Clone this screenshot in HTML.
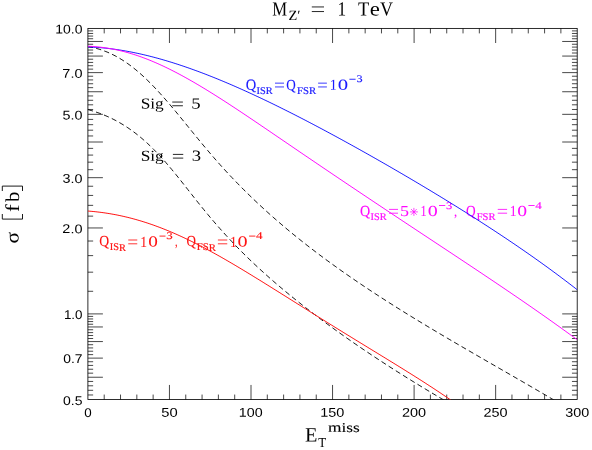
<!DOCTYPE html>
<html><head><meta charset="utf-8"><title>plot</title>
<style>
html,body{margin:0;padding:0;background:#fff;}
body{width:592px;height:450px;overflow:hidden;font-family:"Liberation Sans",sans-serif;}
svg{display:block;will-change:transform;}
text{font-kerning:none;text-rendering:geometricPrecision;}
</style></head><body>
<svg width="592" height="450" viewBox="0 0 592 450">
<defs><clipPath id="cp"><rect x="87.90" y="28.40" width="489.30" height="371.15"/></clipPath></defs>
<rect x="0" y="0" width="592" height="450" fill="#fff"/>
<rect x="87.90" y="28.40" width="489.30" height="371.15" fill="none" stroke="#000" stroke-width="0.82"/>
<line x1="104.21" y1="399.55" x2="104.21" y2="394.55" stroke="#000" stroke-width="0.72" />
<line x1="104.21" y1="28.40" x2="104.21" y2="33.40" stroke="#000" stroke-width="0.72" />
<line x1="120.52" y1="399.55" x2="120.52" y2="394.55" stroke="#000" stroke-width="0.72" />
<line x1="120.52" y1="28.40" x2="120.52" y2="33.40" stroke="#000" stroke-width="0.72" />
<line x1="136.83" y1="399.55" x2="136.83" y2="394.55" stroke="#000" stroke-width="0.72" />
<line x1="136.83" y1="28.40" x2="136.83" y2="33.40" stroke="#000" stroke-width="0.72" />
<line x1="153.14" y1="399.55" x2="153.14" y2="394.55" stroke="#000" stroke-width="0.72" />
<line x1="153.14" y1="28.40" x2="153.14" y2="33.40" stroke="#000" stroke-width="0.72" />
<line x1="169.45" y1="399.55" x2="169.45" y2="384.95" stroke="#000" stroke-width="0.72" />
<line x1="169.45" y1="28.40" x2="169.45" y2="43.00" stroke="#000" stroke-width="0.72" />
<line x1="185.76" y1="399.55" x2="185.76" y2="394.55" stroke="#000" stroke-width="0.72" />
<line x1="185.76" y1="28.40" x2="185.76" y2="33.40" stroke="#000" stroke-width="0.72" />
<line x1="202.07" y1="399.55" x2="202.07" y2="394.55" stroke="#000" stroke-width="0.72" />
<line x1="202.07" y1="28.40" x2="202.07" y2="33.40" stroke="#000" stroke-width="0.72" />
<line x1="218.38" y1="399.55" x2="218.38" y2="394.55" stroke="#000" stroke-width="0.72" />
<line x1="218.38" y1="28.40" x2="218.38" y2="33.40" stroke="#000" stroke-width="0.72" />
<line x1="234.69" y1="399.55" x2="234.69" y2="394.55" stroke="#000" stroke-width="0.72" />
<line x1="234.69" y1="28.40" x2="234.69" y2="33.40" stroke="#000" stroke-width="0.72" />
<line x1="251.00" y1="399.55" x2="251.00" y2="384.95" stroke="#000" stroke-width="0.72" />
<line x1="251.00" y1="28.40" x2="251.00" y2="43.00" stroke="#000" stroke-width="0.72" />
<line x1="267.31" y1="399.55" x2="267.31" y2="394.55" stroke="#000" stroke-width="0.72" />
<line x1="267.31" y1="28.40" x2="267.31" y2="33.40" stroke="#000" stroke-width="0.72" />
<line x1="283.62" y1="399.55" x2="283.62" y2="394.55" stroke="#000" stroke-width="0.72" />
<line x1="283.62" y1="28.40" x2="283.62" y2="33.40" stroke="#000" stroke-width="0.72" />
<line x1="299.93" y1="399.55" x2="299.93" y2="394.55" stroke="#000" stroke-width="0.72" />
<line x1="299.93" y1="28.40" x2="299.93" y2="33.40" stroke="#000" stroke-width="0.72" />
<line x1="316.24" y1="399.55" x2="316.24" y2="394.55" stroke="#000" stroke-width="0.72" />
<line x1="316.24" y1="28.40" x2="316.24" y2="33.40" stroke="#000" stroke-width="0.72" />
<line x1="332.55" y1="399.55" x2="332.55" y2="384.95" stroke="#000" stroke-width="0.72" />
<line x1="332.55" y1="28.40" x2="332.55" y2="43.00" stroke="#000" stroke-width="0.72" />
<line x1="348.86" y1="399.55" x2="348.86" y2="394.55" stroke="#000" stroke-width="0.72" />
<line x1="348.86" y1="28.40" x2="348.86" y2="33.40" stroke="#000" stroke-width="0.72" />
<line x1="365.17" y1="399.55" x2="365.17" y2="394.55" stroke="#000" stroke-width="0.72" />
<line x1="365.17" y1="28.40" x2="365.17" y2="33.40" stroke="#000" stroke-width="0.72" />
<line x1="381.48" y1="399.55" x2="381.48" y2="394.55" stroke="#000" stroke-width="0.72" />
<line x1="381.48" y1="28.40" x2="381.48" y2="33.40" stroke="#000" stroke-width="0.72" />
<line x1="397.79" y1="399.55" x2="397.79" y2="394.55" stroke="#000" stroke-width="0.72" />
<line x1="397.79" y1="28.40" x2="397.79" y2="33.40" stroke="#000" stroke-width="0.72" />
<line x1="414.10" y1="399.55" x2="414.10" y2="384.95" stroke="#000" stroke-width="0.72" />
<line x1="414.10" y1="28.40" x2="414.10" y2="43.00" stroke="#000" stroke-width="0.72" />
<line x1="430.41" y1="399.55" x2="430.41" y2="394.55" stroke="#000" stroke-width="0.72" />
<line x1="430.41" y1="28.40" x2="430.41" y2="33.40" stroke="#000" stroke-width="0.72" />
<line x1="446.72" y1="399.55" x2="446.72" y2="394.55" stroke="#000" stroke-width="0.72" />
<line x1="446.72" y1="28.40" x2="446.72" y2="33.40" stroke="#000" stroke-width="0.72" />
<line x1="463.03" y1="399.55" x2="463.03" y2="394.55" stroke="#000" stroke-width="0.72" />
<line x1="463.03" y1="28.40" x2="463.03" y2="33.40" stroke="#000" stroke-width="0.72" />
<line x1="479.34" y1="399.55" x2="479.34" y2="394.55" stroke="#000" stroke-width="0.72" />
<line x1="479.34" y1="28.40" x2="479.34" y2="33.40" stroke="#000" stroke-width="0.72" />
<line x1="495.65" y1="399.55" x2="495.65" y2="384.95" stroke="#000" stroke-width="0.72" />
<line x1="495.65" y1="28.40" x2="495.65" y2="43.00" stroke="#000" stroke-width="0.72" />
<line x1="511.96" y1="399.55" x2="511.96" y2="394.55" stroke="#000" stroke-width="0.72" />
<line x1="511.96" y1="28.40" x2="511.96" y2="33.40" stroke="#000" stroke-width="0.72" />
<line x1="528.27" y1="399.55" x2="528.27" y2="394.55" stroke="#000" stroke-width="0.72" />
<line x1="528.27" y1="28.40" x2="528.27" y2="33.40" stroke="#000" stroke-width="0.72" />
<line x1="544.58" y1="399.55" x2="544.58" y2="394.55" stroke="#000" stroke-width="0.72" />
<line x1="544.58" y1="28.40" x2="544.58" y2="33.40" stroke="#000" stroke-width="0.72" />
<line x1="560.89" y1="399.55" x2="560.89" y2="394.55" stroke="#000" stroke-width="0.72" />
<line x1="560.89" y1="28.40" x2="560.89" y2="33.40" stroke="#000" stroke-width="0.72" />
<line x1="87.90" y1="394.98" x2="93.15" y2="394.98" stroke="#000" stroke-width="0.72" />
<line x1="577.20" y1="394.98" x2="571.95" y2="394.98" stroke="#000" stroke-width="0.72" />
<line x1="87.90" y1="390.30" x2="93.15" y2="390.30" stroke="#000" stroke-width="0.72" />
<line x1="577.20" y1="390.30" x2="571.95" y2="390.30" stroke="#000" stroke-width="0.72" />
<line x1="87.90" y1="385.79" x2="93.15" y2="385.79" stroke="#000" stroke-width="0.72" />
<line x1="577.20" y1="385.79" x2="571.95" y2="385.79" stroke="#000" stroke-width="0.72" />
<line x1="87.90" y1="381.44" x2="93.15" y2="381.44" stroke="#000" stroke-width="0.72" />
<line x1="577.20" y1="381.44" x2="571.95" y2="381.44" stroke="#000" stroke-width="0.72" />
<line x1="87.90" y1="377.24" x2="102.90" y2="377.24" stroke="#000" stroke-width="0.72" />
<line x1="577.20" y1="377.24" x2="562.20" y2="377.24" stroke="#000" stroke-width="0.72" />
<line x1="87.90" y1="373.17" x2="93.15" y2="373.17" stroke="#000" stroke-width="0.72" />
<line x1="577.20" y1="373.17" x2="571.95" y2="373.17" stroke="#000" stroke-width="0.72" />
<line x1="87.90" y1="369.24" x2="93.15" y2="369.24" stroke="#000" stroke-width="0.72" />
<line x1="577.20" y1="369.24" x2="571.95" y2="369.24" stroke="#000" stroke-width="0.72" />
<line x1="87.90" y1="365.42" x2="93.15" y2="365.42" stroke="#000" stroke-width="0.72" />
<line x1="577.20" y1="365.42" x2="571.95" y2="365.42" stroke="#000" stroke-width="0.72" />
<line x1="87.90" y1="361.72" x2="93.15" y2="361.72" stroke="#000" stroke-width="0.72" />
<line x1="577.20" y1="361.72" x2="571.95" y2="361.72" stroke="#000" stroke-width="0.72" />
<line x1="87.90" y1="358.12" x2="102.90" y2="358.12" stroke="#000" stroke-width="0.72" />
<line x1="577.20" y1="358.12" x2="562.20" y2="358.12" stroke="#000" stroke-width="0.72" />
<line x1="87.90" y1="354.63" x2="93.15" y2="354.63" stroke="#000" stroke-width="0.72" />
<line x1="577.20" y1="354.63" x2="571.95" y2="354.63" stroke="#000" stroke-width="0.72" />
<line x1="87.90" y1="351.23" x2="93.15" y2="351.23" stroke="#000" stroke-width="0.72" />
<line x1="577.20" y1="351.23" x2="571.95" y2="351.23" stroke="#000" stroke-width="0.72" />
<line x1="87.90" y1="347.93" x2="93.15" y2="347.93" stroke="#000" stroke-width="0.72" />
<line x1="577.20" y1="347.93" x2="571.95" y2="347.93" stroke="#000" stroke-width="0.72" />
<line x1="87.90" y1="344.71" x2="93.15" y2="344.71" stroke="#000" stroke-width="0.72" />
<line x1="577.20" y1="344.71" x2="571.95" y2="344.71" stroke="#000" stroke-width="0.72" />
<line x1="87.90" y1="341.57" x2="102.90" y2="341.57" stroke="#000" stroke-width="0.72" />
<line x1="577.20" y1="341.57" x2="562.20" y2="341.57" stroke="#000" stroke-width="0.72" />
<line x1="87.90" y1="338.51" x2="93.15" y2="338.51" stroke="#000" stroke-width="0.72" />
<line x1="577.20" y1="338.51" x2="571.95" y2="338.51" stroke="#000" stroke-width="0.72" />
<line x1="87.90" y1="335.52" x2="93.15" y2="335.52" stroke="#000" stroke-width="0.72" />
<line x1="577.20" y1="335.52" x2="571.95" y2="335.52" stroke="#000" stroke-width="0.72" />
<line x1="87.90" y1="332.60" x2="93.15" y2="332.60" stroke="#000" stroke-width="0.72" />
<line x1="577.20" y1="332.60" x2="571.95" y2="332.60" stroke="#000" stroke-width="0.72" />
<line x1="87.90" y1="329.75" x2="93.15" y2="329.75" stroke="#000" stroke-width="0.72" />
<line x1="577.20" y1="329.75" x2="571.95" y2="329.75" stroke="#000" stroke-width="0.72" />
<line x1="87.90" y1="326.96" x2="102.90" y2="326.96" stroke="#000" stroke-width="0.72" />
<line x1="577.20" y1="326.96" x2="562.20" y2="326.96" stroke="#000" stroke-width="0.72" />
<line x1="87.90" y1="324.24" x2="93.15" y2="324.24" stroke="#000" stroke-width="0.72" />
<line x1="577.20" y1="324.24" x2="571.95" y2="324.24" stroke="#000" stroke-width="0.72" />
<line x1="87.90" y1="321.57" x2="93.15" y2="321.57" stroke="#000" stroke-width="0.72" />
<line x1="577.20" y1="321.57" x2="571.95" y2="321.57" stroke="#000" stroke-width="0.72" />
<line x1="87.90" y1="318.96" x2="93.15" y2="318.96" stroke="#000" stroke-width="0.72" />
<line x1="577.20" y1="318.96" x2="571.95" y2="318.96" stroke="#000" stroke-width="0.72" />
<line x1="87.90" y1="316.40" x2="93.15" y2="316.40" stroke="#000" stroke-width="0.72" />
<line x1="577.20" y1="316.40" x2="571.95" y2="316.40" stroke="#000" stroke-width="0.72" />
<line x1="87.90" y1="313.90" x2="102.90" y2="313.90" stroke="#000" stroke-width="0.72" />
<line x1="577.20" y1="313.90" x2="562.20" y2="313.90" stroke="#000" stroke-width="0.72" />
<line x1="87.90" y1="291.29" x2="93.15" y2="291.29" stroke="#000" stroke-width="0.72" />
<line x1="577.20" y1="291.29" x2="571.95" y2="291.29" stroke="#000" stroke-width="0.72" />
<line x1="87.90" y1="272.18" x2="93.15" y2="272.18" stroke="#000" stroke-width="0.72" />
<line x1="577.20" y1="272.18" x2="571.95" y2="272.18" stroke="#000" stroke-width="0.72" />
<line x1="87.90" y1="255.62" x2="93.15" y2="255.62" stroke="#000" stroke-width="0.72" />
<line x1="577.20" y1="255.62" x2="571.95" y2="255.62" stroke="#000" stroke-width="0.72" />
<line x1="87.90" y1="241.02" x2="93.15" y2="241.02" stroke="#000" stroke-width="0.72" />
<line x1="577.20" y1="241.02" x2="571.95" y2="241.02" stroke="#000" stroke-width="0.72" />
<line x1="87.90" y1="227.96" x2="102.90" y2="227.96" stroke="#000" stroke-width="0.72" />
<line x1="577.20" y1="227.96" x2="562.20" y2="227.96" stroke="#000" stroke-width="0.72" />
<line x1="87.90" y1="216.14" x2="93.15" y2="216.14" stroke="#000" stroke-width="0.72" />
<line x1="577.20" y1="216.14" x2="571.95" y2="216.14" stroke="#000" stroke-width="0.72" />
<line x1="87.90" y1="205.35" x2="93.15" y2="205.35" stroke="#000" stroke-width="0.72" />
<line x1="577.20" y1="205.35" x2="571.95" y2="205.35" stroke="#000" stroke-width="0.72" />
<line x1="87.90" y1="195.43" x2="93.15" y2="195.43" stroke="#000" stroke-width="0.72" />
<line x1="577.20" y1="195.43" x2="571.95" y2="195.43" stroke="#000" stroke-width="0.72" />
<line x1="87.90" y1="186.24" x2="93.15" y2="186.24" stroke="#000" stroke-width="0.72" />
<line x1="577.20" y1="186.24" x2="571.95" y2="186.24" stroke="#000" stroke-width="0.72" />
<line x1="87.90" y1="177.68" x2="102.90" y2="177.68" stroke="#000" stroke-width="0.72" />
<line x1="577.20" y1="177.68" x2="562.20" y2="177.68" stroke="#000" stroke-width="0.72" />
<line x1="87.90" y1="169.68" x2="93.15" y2="169.68" stroke="#000" stroke-width="0.72" />
<line x1="577.20" y1="169.68" x2="571.95" y2="169.68" stroke="#000" stroke-width="0.72" />
<line x1="87.90" y1="162.16" x2="93.15" y2="162.16" stroke="#000" stroke-width="0.72" />
<line x1="577.20" y1="162.16" x2="571.95" y2="162.16" stroke="#000" stroke-width="0.72" />
<line x1="87.90" y1="155.08" x2="93.15" y2="155.08" stroke="#000" stroke-width="0.72" />
<line x1="577.20" y1="155.08" x2="571.95" y2="155.08" stroke="#000" stroke-width="0.72" />
<line x1="87.90" y1="148.37" x2="93.15" y2="148.37" stroke="#000" stroke-width="0.72" />
<line x1="577.20" y1="148.37" x2="571.95" y2="148.37" stroke="#000" stroke-width="0.72" />
<line x1="87.90" y1="142.01" x2="102.90" y2="142.01" stroke="#000" stroke-width="0.72" />
<line x1="577.20" y1="142.01" x2="562.20" y2="142.01" stroke="#000" stroke-width="0.72" />
<line x1="87.90" y1="135.96" x2="93.15" y2="135.96" stroke="#000" stroke-width="0.72" />
<line x1="577.20" y1="135.96" x2="571.95" y2="135.96" stroke="#000" stroke-width="0.72" />
<line x1="87.90" y1="130.19" x2="93.15" y2="130.19" stroke="#000" stroke-width="0.72" />
<line x1="577.20" y1="130.19" x2="571.95" y2="130.19" stroke="#000" stroke-width="0.72" />
<line x1="87.90" y1="124.68" x2="93.15" y2="124.68" stroke="#000" stroke-width="0.72" />
<line x1="577.20" y1="124.68" x2="571.95" y2="124.68" stroke="#000" stroke-width="0.72" />
<line x1="87.90" y1="119.41" x2="93.15" y2="119.41" stroke="#000" stroke-width="0.72" />
<line x1="577.20" y1="119.41" x2="571.95" y2="119.41" stroke="#000" stroke-width="0.72" />
<line x1="87.90" y1="114.34" x2="102.90" y2="114.34" stroke="#000" stroke-width="0.72" />
<line x1="577.20" y1="114.34" x2="562.20" y2="114.34" stroke="#000" stroke-width="0.72" />
<line x1="87.90" y1="109.48" x2="93.15" y2="109.48" stroke="#000" stroke-width="0.72" />
<line x1="577.20" y1="109.48" x2="571.95" y2="109.48" stroke="#000" stroke-width="0.72" />
<line x1="87.90" y1="104.80" x2="93.15" y2="104.80" stroke="#000" stroke-width="0.72" />
<line x1="577.20" y1="104.80" x2="571.95" y2="104.80" stroke="#000" stroke-width="0.72" />
<line x1="87.90" y1="100.29" x2="93.15" y2="100.29" stroke="#000" stroke-width="0.72" />
<line x1="577.20" y1="100.29" x2="571.95" y2="100.29" stroke="#000" stroke-width="0.72" />
<line x1="87.90" y1="95.94" x2="93.15" y2="95.94" stroke="#000" stroke-width="0.72" />
<line x1="577.20" y1="95.94" x2="571.95" y2="95.94" stroke="#000" stroke-width="0.72" />
<line x1="87.90" y1="91.74" x2="102.90" y2="91.74" stroke="#000" stroke-width="0.72" />
<line x1="577.20" y1="91.74" x2="562.20" y2="91.74" stroke="#000" stroke-width="0.72" />
<line x1="87.90" y1="87.67" x2="93.15" y2="87.67" stroke="#000" stroke-width="0.72" />
<line x1="577.20" y1="87.67" x2="571.95" y2="87.67" stroke="#000" stroke-width="0.72" />
<line x1="87.90" y1="83.74" x2="93.15" y2="83.74" stroke="#000" stroke-width="0.72" />
<line x1="577.20" y1="83.74" x2="571.95" y2="83.74" stroke="#000" stroke-width="0.72" />
<line x1="87.90" y1="79.92" x2="93.15" y2="79.92" stroke="#000" stroke-width="0.72" />
<line x1="577.20" y1="79.92" x2="571.95" y2="79.92" stroke="#000" stroke-width="0.72" />
<line x1="87.90" y1="76.22" x2="93.15" y2="76.22" stroke="#000" stroke-width="0.72" />
<line x1="577.20" y1="76.22" x2="571.95" y2="76.22" stroke="#000" stroke-width="0.72" />
<line x1="87.90" y1="72.62" x2="102.90" y2="72.62" stroke="#000" stroke-width="0.72" />
<line x1="577.20" y1="72.62" x2="562.20" y2="72.62" stroke="#000" stroke-width="0.72" />
<line x1="87.90" y1="69.13" x2="93.15" y2="69.13" stroke="#000" stroke-width="0.72" />
<line x1="577.20" y1="69.13" x2="571.95" y2="69.13" stroke="#000" stroke-width="0.72" />
<line x1="87.90" y1="65.73" x2="93.15" y2="65.73" stroke="#000" stroke-width="0.72" />
<line x1="577.20" y1="65.73" x2="571.95" y2="65.73" stroke="#000" stroke-width="0.72" />
<line x1="87.90" y1="62.43" x2="93.15" y2="62.43" stroke="#000" stroke-width="0.72" />
<line x1="577.20" y1="62.43" x2="571.95" y2="62.43" stroke="#000" stroke-width="0.72" />
<line x1="87.90" y1="59.21" x2="93.15" y2="59.21" stroke="#000" stroke-width="0.72" />
<line x1="577.20" y1="59.21" x2="571.95" y2="59.21" stroke="#000" stroke-width="0.72" />
<line x1="87.90" y1="56.07" x2="102.90" y2="56.07" stroke="#000" stroke-width="0.72" />
<line x1="577.20" y1="56.07" x2="562.20" y2="56.07" stroke="#000" stroke-width="0.72" />
<line x1="87.90" y1="53.01" x2="93.15" y2="53.01" stroke="#000" stroke-width="0.72" />
<line x1="577.20" y1="53.01" x2="571.95" y2="53.01" stroke="#000" stroke-width="0.72" />
<line x1="87.90" y1="50.02" x2="93.15" y2="50.02" stroke="#000" stroke-width="0.72" />
<line x1="577.20" y1="50.02" x2="571.95" y2="50.02" stroke="#000" stroke-width="0.72" />
<line x1="87.90" y1="47.10" x2="93.15" y2="47.10" stroke="#000" stroke-width="0.72" />
<line x1="577.20" y1="47.10" x2="571.95" y2="47.10" stroke="#000" stroke-width="0.72" />
<line x1="87.90" y1="44.25" x2="93.15" y2="44.25" stroke="#000" stroke-width="0.72" />
<line x1="577.20" y1="44.25" x2="571.95" y2="44.25" stroke="#000" stroke-width="0.72" />
<line x1="87.90" y1="41.46" x2="102.90" y2="41.46" stroke="#000" stroke-width="0.72" />
<line x1="577.20" y1="41.46" x2="562.20" y2="41.46" stroke="#000" stroke-width="0.72" />
<line x1="87.90" y1="38.74" x2="93.15" y2="38.74" stroke="#000" stroke-width="0.72" />
<line x1="577.20" y1="38.74" x2="571.95" y2="38.74" stroke="#000" stroke-width="0.72" />
<line x1="87.90" y1="36.07" x2="93.15" y2="36.07" stroke="#000" stroke-width="0.72" />
<line x1="577.20" y1="36.07" x2="571.95" y2="36.07" stroke="#000" stroke-width="0.72" />
<line x1="87.90" y1="33.46" x2="93.15" y2="33.46" stroke="#000" stroke-width="0.72" />
<line x1="577.20" y1="33.46" x2="571.95" y2="33.46" stroke="#000" stroke-width="0.72" />
<line x1="87.90" y1="30.90" x2="93.15" y2="30.90" stroke="#000" stroke-width="0.72" />
<line x1="577.20" y1="30.90" x2="571.95" y2="30.90" stroke="#000" stroke-width="0.72" />
<text transform="translate(84.177,416.789) rotate(0.2) scale(0.13388,0.12712)" font-family='"Liberation Sans", sans-serif' font-size="100" fill="#000" >0</text>
<text transform="translate(161.234,416.773) rotate(0.2) scale(0.14760,0.12712)" font-family='"Liberation Sans", sans-serif' font-size="100" fill="#000" >50</text>
<text transform="translate(238.866,416.761) rotate(0.2) scale(0.14228,0.12712)" font-family='"Liberation Sans", sans-serif' font-size="100" fill="#000" >100</text>
<text transform="translate(320.197,416.761) rotate(0.2) scale(0.14486,0.12712)" font-family='"Liberation Sans", sans-serif' font-size="100" fill="#000" >150</text>
<text transform="translate(401.921,416.760) rotate(0.2) scale(0.14502,0.12712)" font-family='"Liberation Sans", sans-serif' font-size="100" fill="#000" >200</text>
<text transform="translate(483.471,416.760) rotate(0.2) scale(0.14502,0.12712)" font-family='"Liberation Sans", sans-serif' font-size="100" fill="#000" >250</text>
<text transform="translate(565.202,416.760) rotate(0.2) scale(0.14391,0.12712)" font-family='"Liberation Sans", sans-serif' font-size="100" fill="#000" >300</text>
<text transform="translate(55.183,33.555) rotate(0.2) scale(0.14008,0.12712)" font-family='"Liberation Sans", sans-serif' font-size="100" fill="#000" >10.0</text>
<text transform="translate(62.358,77.792) rotate(0.2) scale(0.14464,0.12712)" font-family='"Liberation Sans", sans-serif' font-size="100" fill="#000" >7.0</text>
<text transform="translate(62.526,119.511) rotate(0.2) scale(0.14340,0.12712)" font-family='"Liberation Sans", sans-serif' font-size="100" fill="#000" >5.0</text>
<text transform="translate(62.555,182.849) rotate(0.2) scale(0.14318,0.12712)" font-family='"Liberation Sans", sans-serif' font-size="100" fill="#000" >3.0</text>
<text transform="translate(62.373,233.123) rotate(0.2) scale(0.14453,0.12712)" font-family='"Liberation Sans", sans-serif' font-size="100" fill="#000" >2.0</text>
<text transform="translate(63.884,319.070) rotate(0.2) scale(0.13334,0.12712)" font-family='"Liberation Sans", sans-serif' font-size="100" fill="#000" >1.0</text>
<text transform="translate(63.256,363.293) rotate(0.2) scale(0.13915,0.12712)" font-family='"Liberation Sans", sans-serif' font-size="100" fill="#000" >0.7</text>
<text transform="translate(63.054,405.012) rotate(0.2) scale(0.13979,0.12712)" font-family='"Liberation Sans", sans-serif' font-size="100" fill="#000" >0.5</text>
<text transform="translate(272.220,15.426) rotate(0.2) scale(0.16666,0.20000)" font-family='"Liberation Serif", serif' font-size="100" fill="#000" >M</text>
<text transform="translate(288.414,19.982) rotate(0.2) scale(0.14336,0.14200)" font-family='"Liberation Serif", serif' font-size="100" fill="#000" >Z′</text>
<line x1="311.80" y1="6.95" x2="324.00" y2="6.95" stroke="#000" stroke-width="0.85" />
<line x1="311.80" y1="11.55" x2="324.00" y2="11.55" stroke="#000" stroke-width="0.85" />
<text transform="translate(337.577,15.439) rotate(0.2) scale(0.17327,0.20000)" font-family='"Liberation Serif", serif' font-size="100" fill="#000" >1</text>
<text transform="translate(358.068,15.431) rotate(0.2) scale(0.18397,0.20000)" font-family='"Liberation Serif", serif' font-size="100" fill="#000" >T</text>
<text transform="translate(369.713,15.435) rotate(0.2) scale(0.22696,0.20000)" font-family='"Liberation Serif", serif' font-size="100" fill="#000" >e</text>
<text transform="translate(379.998,15.428) rotate(0.2) scale(0.18008,0.20000)" font-family='"Liberation Serif", serif' font-size="100" fill="#000" >V</text>
<text transform="translate(305.015,441.431) rotate(0.2) scale(0.20292,0.20300)" font-family='"Liberation Serif", serif' font-size="100" fill="#000" >E</text>
<text transform="translate(318.165,446.687) rotate(0.2) scale(0.13017,0.13700)" font-family='"Liberation Serif", serif' font-size="100" fill="#000" >T</text>
<text transform="translate(328.007,431.846) rotate(0.2) scale(0.17256,0.13700)" font-family='"Liberation Serif", serif' font-size="100" fill="#000"  stroke="#000" stroke-width="0.8">miss</text>
<text transform="rotate(-90) translate(-243.507,18.582) rotate(0.2) scale(0.21200,0.19000)" font-family='"Liberation Serif", serif' font-size="100" fill="#000" >σ</text>
<text transform="rotate(-90) translate(-212.002,18.988) rotate(0.2) scale(0.22829,0.19600)" font-family='"Liberation Serif", serif' font-size="100" fill="#000" >f</text>
<text transform="rotate(-90) translate(-202.100,18.983) rotate(0.2) scale(0.20567,0.19600)" font-family='"Liberation Serif", serif' font-size="100" fill="#000" >b</text>
<path d="M22.5 214 L22.5 219.1 L2.3 219.1 L2.3 214" fill="none" stroke="#000" stroke-width="0.9"/>
<path d="M22.5 191 L22.5 186.1 L2.3 186.1 L2.3 191" fill="none" stroke="#000" stroke-width="0.9"/>
<text transform="translate(245.866,89.633) rotate(0.2) scale(0.14433,0.15400)" font-family='"Liberation Serif", serif' font-size="100" fill="#1a1aff"  stroke="#1a1aff" stroke-width="0.8">Q</text>
<text transform="translate(256.620,93.622) rotate(0.2) scale(0.10315,0.10300)" font-family='"Liberation Serif", serif' font-size="100" fill="#1a1aff"  stroke="#1a1aff" stroke-width="1.8">ISR</text>
<line x1="275.00" y1="83.15" x2="284.00" y2="83.15" stroke="#1a1aff" stroke-width="0.85" />
<line x1="275.00" y1="86.95" x2="284.00" y2="86.95" stroke="#1a1aff" stroke-width="0.85" />
<text transform="translate(286.165,89.635) rotate(0.2) scale(0.13094,0.15400)" font-family='"Liberation Serif", serif' font-size="100" fill="#1a1aff"  stroke="#1a1aff" stroke-width="0.8">Q</text>
<text transform="translate(297.037,93.617) rotate(0.2) scale(0.10753,0.10300)" font-family='"Liberation Serif", serif' font-size="100" fill="#1a1aff"  stroke="#1a1aff" stroke-width="1.8">FSR</text>
<line x1="318.10" y1="83.15" x2="326.90" y2="83.15" stroke="#1a1aff" stroke-width="0.85" />
<line x1="318.10" y1="86.95" x2="326.90" y2="86.95" stroke="#1a1aff" stroke-width="0.85" />
<text transform="translate(329.861,89.741) rotate(0.2) scale(0.14263,0.15300)" font-family='"Liberation Serif", serif' font-size="100" fill="#1a1aff"  stroke="#1a1aff" stroke-width="0.2">1</text>
<text transform="translate(337.834,89.735) rotate(0.2) scale(0.20666,0.15300)" font-family='"Liberation Serif", serif' font-size="100" fill="#1a1aff"  stroke="#1a1aff" stroke-width="0.2">0</text>
<line x1="349.40" y1="79.25" x2="355.60" y2="79.25" stroke="#1a1aff" stroke-width="0.9" />
<text transform="translate(356.403,82.441) rotate(0.2) scale(0.12176,0.10200)" font-family='"Liberation Serif", serif' font-size="100" fill="#1a1aff"  stroke="#1a1aff" stroke-width="1.4">3</text>
<text transform="translate(359.880,215.884) rotate(0.2) scale(0.14061,0.15400)" font-family='"Liberation Serif", serif' font-size="100" fill="#ff08ff"  stroke="#ff08ff" stroke-width="0.8">Q</text>
<text transform="translate(370.620,219.872) rotate(0.2) scale(0.10315,0.10300)" font-family='"Liberation Serif", serif' font-size="100" fill="#ff08ff"  stroke="#ff08ff" stroke-width="1.8">ISR</text>
<line x1="389.00" y1="209.40" x2="398.00" y2="209.40" stroke="#ff08ff" stroke-width="0.85" />
<line x1="389.00" y1="213.20" x2="398.00" y2="213.20" stroke="#ff08ff" stroke-width="0.85" />
<text transform="translate(399.970,215.987) rotate(0.2) scale(0.18032,0.15300)" font-family='"Liberation Serif", serif' font-size="100" fill="#ff08ff"  stroke="#ff08ff" stroke-width="0.2">5</text>
<line x1="409.90" y1="211.90" x2="417.90" y2="211.90" stroke="#ff08ff" stroke-width="0.75" />
<line x1="411.07" y1="209.07" x2="416.73" y2="214.73" stroke="#ff08ff" stroke-width="0.75" />
<line x1="413.90" y1="207.90" x2="413.90" y2="215.90" stroke="#ff08ff" stroke-width="0.75" />
<line x1="416.73" y1="209.07" x2="411.07" y2="214.73" stroke="#ff08ff" stroke-width="0.75" />
<text transform="translate(420.445,215.992) rotate(0.2) scale(0.12145,0.15300)" font-family='"Liberation Serif", serif' font-size="100" fill="#ff08ff"  stroke="#ff08ff" stroke-width="0.2">1</text>
<text transform="translate(427.760,215.985) rotate(0.2) scale(0.19961,0.15300)" font-family='"Liberation Serif", serif' font-size="100" fill="#ff08ff"  stroke="#ff08ff" stroke-width="0.2">0</text>
<line x1="439.00" y1="205.50" x2="445.25" y2="205.50" stroke="#ff08ff" stroke-width="0.9" />
<text transform="translate(445.983,208.691) rotate(0.2) scale(0.12644,0.10200)" font-family='"Liberation Serif", serif' font-size="100" fill="#ff08ff"  stroke="#ff08ff" stroke-width="1.4">3</text>
<text transform="translate(454.026,215.797) rotate(0.2) scale(0.12426,0.15000)" font-family='"Liberation Serif", serif' font-size="100" fill="#ff08ff"  stroke="#ff08ff" stroke-width="0.8">,</text>
<text transform="translate(465.907,215.884) rotate(0.2) scale(0.13317,0.15400)" font-family='"Liberation Serif", serif' font-size="100" fill="#ff08ff"  stroke="#ff08ff" stroke-width="0.8">Q</text>
<text transform="translate(476.691,219.868) rotate(0.2) scale(0.10526,0.10300)" font-family='"Liberation Serif", serif' font-size="100" fill="#ff08ff"  stroke="#ff08ff" stroke-width="1.8">FSR</text>
<line x1="497.75" y1="209.40" x2="507.10" y2="209.40" stroke="#ff08ff" stroke-width="0.85" />
<line x1="497.75" y1="213.20" x2="507.10" y2="213.20" stroke="#ff08ff" stroke-width="0.85" />
<text transform="translate(509.822,215.992) rotate(0.2) scale(0.13557,0.15300)" font-family='"Liberation Serif", serif' font-size="100" fill="#ff08ff"  stroke="#ff08ff" stroke-width="0.2">1</text>
<text transform="translate(517.127,215.986) rotate(0.2) scale(0.19491,0.15300)" font-family='"Liberation Serif", serif' font-size="100" fill="#ff08ff"  stroke="#ff08ff" stroke-width="0.2">0</text>
<line x1="528.40" y1="205.50" x2="534.60" y2="205.50" stroke="#ff08ff" stroke-width="0.9" />
<text transform="translate(535.336,208.689) rotate(0.2) scale(0.13052,0.10200)" font-family='"Liberation Serif", serif' font-size="100" fill="#ff08ff"  stroke="#ff08ff" stroke-width="1.4">4</text>
<text transform="translate(99.149,246.484) rotate(0.2) scale(0.13540,0.15400)" font-family='"Liberation Serif", serif' font-size="100" fill="#ff1212"  stroke="#ff1212" stroke-width="0.8">Q</text>
<text transform="translate(109.819,250.472) rotate(0.2) scale(0.10348,0.10300)" font-family='"Liberation Serif", serif' font-size="100" fill="#ff1212"  stroke="#ff1212" stroke-width="1.8">ISR</text>
<line x1="128.25" y1="240.00" x2="137.25" y2="240.00" stroke="#ff1212" stroke-width="0.85" />
<line x1="128.25" y1="243.80" x2="137.25" y2="243.80" stroke="#ff1212" stroke-width="0.85" />
<text transform="translate(140.322,246.592) rotate(0.2) scale(0.13557,0.15300)" font-family='"Liberation Serif", serif' font-size="100" fill="#ff1212"  stroke="#ff1212" stroke-width="0.2">1</text>
<text transform="translate(148.290,246.586) rotate(0.2) scale(0.19139,0.15300)" font-family='"Liberation Serif", serif' font-size="100" fill="#ff1212"  stroke="#ff1212" stroke-width="0.2">0</text>
<line x1="159.50" y1="236.10" x2="165.50" y2="236.10" stroke="#ff1212" stroke-width="0.9" />
<text transform="translate(166.224,239.290) rotate(0.2) scale(0.12878,0.10200)" font-family='"Liberation Serif", serif' font-size="100" fill="#ff1212"  stroke="#ff1212" stroke-width="1.4">3</text>
<text transform="translate(174.952,246.397) rotate(0.2) scale(0.10196,0.15000)" font-family='"Liberation Serif", serif' font-size="100" fill="#ff1212"  stroke="#ff1212" stroke-width="0.8">,</text>
<text transform="translate(186.421,246.485) rotate(0.2) scale(0.12945,0.15400)" font-family='"Liberation Serif", serif' font-size="100" fill="#ff1212"  stroke="#ff1212" stroke-width="0.8">Q</text>
<text transform="translate(196.787,250.467) rotate(0.2) scale(0.10753,0.10300)" font-family='"Liberation Serif", serif' font-size="100" fill="#ff1212"  stroke="#ff1212" stroke-width="1.8">FSR</text>
<line x1="217.90" y1="240.00" x2="227.25" y2="240.00" stroke="#ff1212" stroke-width="0.85" />
<line x1="217.90" y1="243.80" x2="227.25" y2="243.80" stroke="#ff1212" stroke-width="0.85" />
<text transform="translate(229.922,246.592) rotate(0.2) scale(0.13557,0.15300)" font-family='"Liberation Serif", serif' font-size="100" fill="#ff1212"  stroke="#ff1212" stroke-width="0.2">1</text>
<text transform="translate(237.605,246.585) rotate(0.2) scale(0.20079,0.15300)" font-family='"Liberation Serif", serif' font-size="100" fill="#ff1212"  stroke="#ff1212" stroke-width="0.2">0</text>
<line x1="249.10" y1="236.10" x2="255.40" y2="236.10" stroke="#ff1212" stroke-width="0.9" />
<text transform="translate(256.086,239.289) rotate(0.2) scale(0.13052,0.10200)" font-family='"Liberation Serif", serif' font-size="100" fill="#ff1212"  stroke="#ff1212" stroke-width="1.4">4</text>
<text transform="translate(140.642,108.412) rotate(0.2) scale(0.17307,0.15200)" font-family='"Liberation Serif", serif' font-size="100" fill="#000" >Sig</text>
<line x1="172.25" y1="102.05" x2="182.90" y2="102.05" stroke="#000" stroke-width="0.85" />
<line x1="172.25" y1="105.75" x2="182.90" y2="105.75" stroke="#000" stroke-width="0.85" />
<text transform="translate(191.261,108.437) rotate(0.2) scale(0.18742,0.15400)" font-family='"Liberation Serif", serif' font-size="100" fill="#000" >5</text>
<text transform="translate(140.642,160.762) rotate(0.2) scale(0.17307,0.15200)" font-family='"Liberation Serif", serif' font-size="100" fill="#000" >Sig</text>
<line x1="172.90" y1="154.40" x2="183.25" y2="154.40" stroke="#000" stroke-width="0.85" />
<line x1="172.90" y1="158.10" x2="183.25" y2="158.10" stroke="#000" stroke-width="0.85" />
<text transform="translate(191.708,160.787) rotate(0.2) scale(0.18640,0.15400)" font-family='"Liberation Serif", serif' font-size="100" fill="#000" >3</text>
<path d="M87.90 46.50 L89.90 46.87 L91.90 47.29 L93.90 47.76 L95.90 48.27 L97.90 48.83 L99.90 49.43 L101.90 50.09 L103.90 50.81 L105.90 51.57 L107.90 52.39 L109.90 53.27 L111.90 54.20 L113.90 55.19 L115.90 56.23 L117.90 57.34 L119.90 58.50 L121.90 59.72 L123.90 61.00 L125.90 62.33 L127.90 63.73 L129.90 65.18 L131.90 66.69 L133.90 68.25 L135.90 69.87 L137.90 71.55 L139.90 73.28 L141.90 75.06 L143.90 76.89 L145.90 78.77 L147.90 80.71 L149.90 82.69 L151.90 84.71 L153.90 86.78 L155.90 88.89 L157.90 91.04 L159.90 93.22 L161.90 95.45 L163.90 97.70 L165.90 99.99 L167.90 102.30 L169.90 104.64 L171.90 107.00 L173.90 109.38 L175.90 111.79 L177.90 114.20 L179.90 116.64 L181.90 119.08 L183.90 121.53 L185.90 123.99 L187.90 126.45 L189.90 128.91 L191.90 131.37 L193.90 133.83 L195.90 136.28 L197.90 138.72 L199.90 141.14 L201.90 143.56 L203.90 145.96 L205.90 148.34 L207.90 150.71 L209.90 153.06 L211.90 155.39 L213.90 157.70 L215.90 159.99 L217.90 162.25 L219.90 164.50 L221.90 166.72 L223.90 168.93 L225.90 171.11 L227.90 173.27 L229.90 175.41 L231.90 177.53 L233.90 179.62 L235.90 181.70 L237.90 183.76 L239.90 185.81 L241.90 187.83 L243.90 189.83 L245.90 191.82 L247.90 193.79 L249.90 195.74 L251.90 197.67 L253.90 199.59 L255.90 201.49 L257.90 203.37 L259.90 205.24 L261.90 207.09 L263.90 208.93 L265.90 210.75 L267.90 212.55 L269.90 214.35 L271.90 216.12 L273.90 217.89 L275.90 219.64 L277.90 221.37 L279.90 223.09 L281.90 224.80 L283.90 226.50 L285.90 228.18 L287.90 229.86 L289.90 231.52 L291.90 233.16 L293.90 234.80 L295.90 236.42 L297.90 238.04 L299.90 239.64 L301.90 241.23 L303.90 242.81 L305.90 244.38 L307.90 245.94 L309.90 247.49 L311.90 249.03 L313.90 250.56 L315.90 252.08 L317.90 253.59 L319.90 255.10 L321.90 256.59 L323.90 258.08 L325.90 259.55 L327.90 261.02 L329.90 262.48 L331.90 263.93 L333.90 265.38 L335.90 266.81 L337.90 268.24 L339.90 269.66 L341.90 271.08 L343.90 272.49 L345.90 273.89 L347.90 275.28 L349.90 276.67 L351.90 278.05 L353.90 279.42 L355.90 280.79 L357.90 282.15 L359.90 283.50 L361.90 284.85 L363.90 286.19 L365.90 287.53 L367.90 288.86 L369.90 290.19 L371.90 291.51 L373.90 292.82 L375.90 294.13 L377.90 295.44 L379.90 296.74 L381.90 298.03 L383.90 299.32 L385.90 300.60 L387.90 301.88 L389.90 303.16 L391.90 304.43 L393.90 305.69 L395.90 306.95 L397.90 308.21 L399.90 309.46 L401.90 310.71 L403.90 311.96 L405.90 313.20 L407.90 314.44 L409.90 315.67 L411.90 316.90 L413.90 318.12 L415.90 319.35 L417.90 320.57 L419.90 321.78 L421.90 322.99 L423.90 324.20 L425.90 325.41 L427.90 326.61 L429.90 327.81 L431.90 329.01 L433.90 330.21 L435.90 331.40 L437.90 332.59 L439.90 333.78 L441.90 334.96 L443.90 336.14 L445.90 337.32 L447.90 338.50 L449.90 339.68 L451.90 340.85 L453.90 342.03 L455.90 343.20 L457.90 344.37 L459.90 345.53 L461.90 346.70 L463.90 347.86 L465.90 349.03 L467.90 350.19 L469.90 351.35 L471.90 352.51 L473.90 353.67 L475.90 354.82 L477.90 355.98 L479.90 357.14 L481.90 358.29 L483.90 359.45 L485.90 360.60 L487.90 361.75 L489.90 362.91 L491.90 364.06 L493.90 365.21 L495.90 366.36 L497.90 367.51 L499.90 368.67 L501.90 369.82 L503.90 370.97 L505.90 372.12 L507.90 373.27 L509.90 374.43 L511.90 375.58 L513.90 376.73 L515.90 377.89 L517.90 379.04 L519.90 380.20 L521.90 381.35 L523.90 382.51 L525.90 383.67 L527.90 384.82 L529.90 385.98 L531.90 387.15 L533.90 388.31 L535.90 389.47 L537.90 390.63 L539.90 391.80 L541.90 392.97 L543.90 394.14 L545.90 395.31 L547.90 396.48 L549.90 397.65 L551.90 398.83 L553.90 400.01 L555.90 401.19 L557.90 402.37 L559.90 403.55 L560.00 403.61" fill="none" stroke="#000" stroke-width="0.92" stroke-dasharray="5.2 3.3" clip-path="url(#cp)"/>
<path d="M87.90 109.60 L89.90 110.15 L91.90 110.73 L93.90 111.35 L95.90 112.00 L97.90 112.69 L99.90 113.41 L101.90 114.18 L103.90 114.98 L105.90 115.81 L107.90 116.69 L109.90 117.61 L111.90 118.57 L113.90 119.57 L115.90 120.61 L117.90 121.70 L119.90 122.83 L121.90 124.01 L123.90 125.23 L125.90 126.50 L127.90 127.81 L129.90 129.18 L131.90 130.59 L133.90 132.06 L135.90 133.57 L137.90 135.14 L139.90 136.76 L141.90 138.44 L143.90 140.17 L145.90 141.95 L147.90 143.78 L149.90 145.67 L151.90 147.62 L153.90 149.61 L155.90 151.66 L157.90 153.75 L159.90 155.89 L161.90 158.08 L163.90 160.32 L165.90 162.59 L167.90 164.91 L169.90 167.26 L171.90 169.65 L173.90 172.08 L175.90 174.53 L177.90 177.00 L179.90 179.50 L181.90 182.02 L183.90 184.55 L185.90 187.09 L187.90 189.64 L189.90 192.18 L191.90 194.73 L193.90 197.27 L195.90 199.79 L197.90 202.30 L199.90 204.80 L201.90 207.28 L203.90 209.73 L205.90 212.17 L207.90 214.58 L209.90 216.97 L211.90 219.33 L213.90 221.67 L215.90 223.99 L217.90 226.28 L219.90 228.55 L221.90 230.79 L223.90 233.01 L225.90 235.21 L227.90 237.38 L229.90 239.53 L231.90 241.66 L233.90 243.76 L235.90 245.84 L237.90 247.90 L239.90 249.94 L241.90 251.95 L243.90 253.94 L245.90 255.92 L247.90 257.87 L249.90 259.80 L251.90 261.72 L253.90 263.61 L255.90 265.49 L257.90 267.35 L259.90 269.19 L261.90 271.02 L263.90 272.83 L265.90 274.62 L267.90 276.40 L269.90 278.17 L271.90 279.92 L273.90 281.66 L275.90 283.38 L277.90 285.09 L279.90 286.79 L281.90 288.47 L283.90 290.15 L285.90 291.81 L287.90 293.46 L289.90 295.10 L291.90 296.73 L293.90 298.35 L295.90 299.96 L297.90 301.56 L299.90 303.14 L301.90 304.72 L303.90 306.29 L305.90 307.86 L307.90 309.41 L309.90 310.95 L311.90 312.49 L313.90 314.01 L315.90 315.53 L317.90 317.04 L319.90 318.55 L321.90 320.04 L323.90 321.53 L325.90 323.01 L327.90 324.48 L329.90 325.94 L331.90 327.40 L333.90 328.85 L335.90 330.30 L337.90 331.73 L339.90 333.16 L341.90 334.58 L343.90 336.00 L345.90 337.41 L347.90 338.81 L349.90 340.21 L351.90 341.60 L353.90 342.98 L355.90 344.36 L357.90 345.73 L359.90 347.10 L361.90 348.46 L363.90 349.81 L365.90 351.16 L367.90 352.51 L369.90 353.84 L371.90 355.18 L373.90 356.50 L375.90 357.83 L377.90 359.14 L379.90 360.46 L381.90 361.76 L383.90 363.06 L385.90 364.36 L387.90 365.65 L389.90 366.94 L391.90 368.22 L393.90 369.50 L395.90 370.77 L397.90 372.04 L399.90 373.31 L401.90 374.57 L403.90 375.82 L405.90 377.07 L407.90 378.32 L409.90 379.56 L411.90 380.80 L413.90 382.03 L415.90 383.26 L417.90 384.49 L419.90 385.71 L421.90 386.93 L423.90 388.14 L425.90 389.35 L427.90 390.56 L429.90 391.76 L431.90 392.96 L433.90 394.15 L435.90 395.34 L437.90 396.53 L439.90 397.71 L441.90 398.89 L443.90 400.06 L445.90 401.23 L447.90 402.40 L449.90 403.56 L450.00 403.62" fill="none" stroke="#000" stroke-width="0.92" stroke-dasharray="5.2 3.3" clip-path="url(#cp)"/>
<path d="M87.90 211.04 L89.90 211.20 L91.90 211.38 L93.90 211.57 L95.90 211.78 L97.90 212.00 L99.90 212.24 L101.90 212.50 L103.90 212.78 L105.90 213.07 L107.90 213.38 L109.90 213.70 L111.90 214.05 L113.90 214.41 L115.90 214.78 L117.90 215.18 L119.90 215.59 L121.90 216.02 L123.90 216.47 L125.90 216.94 L127.90 217.42 L129.90 217.92 L131.90 218.44 L133.90 218.98 L135.90 219.53 L137.90 220.10 L139.90 220.69 L141.90 221.29 L143.90 221.91 L145.90 222.55 L147.90 223.21 L149.90 223.88 L151.90 224.57 L153.90 225.28 L155.90 226.00 L157.90 226.74 L159.90 227.49 L161.90 228.26 L163.90 229.05 L165.90 229.85 L167.90 230.66 L169.90 231.49 L171.90 232.34 L173.90 233.20 L175.90 234.07 L177.90 234.96 L179.90 235.86 L181.90 236.78 L183.90 237.71 L185.90 238.65 L187.90 239.61 L189.90 240.58 L191.90 241.56 L193.90 242.55 L195.90 243.56 L197.90 244.57 L199.90 245.60 L201.90 246.64 L203.90 247.69 L205.90 248.75 L207.90 249.82 L209.90 250.91 L211.90 252.00 L213.90 253.10 L215.90 254.21 L217.90 255.33 L219.90 256.45 L221.90 257.59 L223.90 258.73 L225.90 259.88 L227.90 261.04 L229.90 262.21 L231.90 263.38 L233.90 264.56 L235.90 265.74 L237.90 266.93 L239.90 268.13 L241.90 269.33 L243.90 270.54 L245.90 271.75 L247.90 272.96 L249.90 274.18 L251.90 275.40 L253.90 276.63 L255.90 277.86 L257.90 279.09 L259.90 280.32 L261.90 281.56 L263.90 282.80 L265.90 284.05 L267.90 285.29 L269.90 286.54 L271.90 287.79 L273.90 289.04 L275.90 290.29 L277.90 291.54 L279.90 292.79 L281.90 294.05 L283.90 295.30 L285.90 296.56 L287.90 297.81 L289.90 299.07 L291.90 300.32 L293.90 301.58 L295.90 302.83 L297.90 304.09 L299.90 305.34 L301.90 306.60 L303.90 307.85 L305.90 309.10 L307.90 310.36 L309.90 311.61 L311.90 312.86 L313.90 314.11 L315.90 315.36 L317.90 316.61 L319.90 317.85 L321.90 319.10 L323.90 320.34 L325.90 321.58 L327.90 322.83 L329.90 324.07 L331.90 325.31 L333.90 326.54 L335.90 327.78 L337.90 329.02 L339.90 330.25 L341.90 331.49 L343.90 332.72 L345.90 333.95 L347.90 335.18 L349.90 336.41 L351.90 337.64 L353.90 338.86 L355.90 340.09 L357.90 341.32 L359.90 342.54 L361.90 343.76 L363.90 344.99 L365.90 346.21 L367.90 347.44 L369.90 348.66 L371.90 349.88 L373.90 351.10 L375.90 352.33 L377.90 353.55 L379.90 354.77 L381.90 356.00 L383.90 357.22 L385.90 358.45 L387.90 359.68 L389.90 360.91 L391.90 362.14 L393.90 363.37 L395.90 364.60 L397.90 365.83 L399.90 367.07 L401.90 368.31 L403.90 369.55 L405.90 370.80 L407.90 372.05 L409.90 373.30 L411.90 374.55 L413.90 375.81 L415.90 377.08 L417.90 378.34 L419.90 379.61 L421.90 380.89 L423.90 382.17 L425.90 383.46 L427.90 384.75 L429.90 386.05 L431.90 387.35 L433.90 388.67 L435.90 389.98 L437.90 391.31 L439.90 392.64 L441.90 393.98 L443.90 395.33 L445.90 396.69 L447.90 398.05 L449.90 399.43 L451.90 400.81 L453.90 402.21 L455.90 403.61 L456.00 403.68" fill="none" stroke="#ff1212" stroke-width="1.0" clip-path="url(#cp)"/>
<path d="M87.90 46.94 L89.90 47.02 L91.90 47.11 L93.90 47.22 L95.90 47.34 L97.90 47.48 L99.90 47.64 L101.90 47.81 L103.90 48.00 L105.90 48.20 L107.90 48.42 L109.90 48.66 L111.90 48.90 L113.90 49.17 L115.90 49.45 L117.90 49.74 L119.90 50.04 L121.90 50.37 L123.90 50.70 L125.90 51.05 L127.90 51.41 L129.90 51.78 L131.90 52.17 L133.90 52.57 L135.90 52.99 L137.90 53.41 L139.90 53.85 L141.90 54.31 L143.90 54.77 L145.90 55.24 L147.90 55.73 L149.90 56.23 L151.90 56.74 L153.90 57.26 L155.90 57.80 L157.90 58.34 L159.90 58.90 L161.90 59.46 L163.90 60.04 L165.90 60.63 L167.90 61.23 L169.90 61.84 L171.90 62.45 L173.90 63.08 L175.90 63.72 L177.90 64.37 L179.90 65.02 L181.90 65.69 L183.90 66.37 L185.90 67.05 L187.90 67.74 L189.90 68.45 L191.90 69.16 L193.90 69.88 L195.90 70.61 L197.90 71.34 L199.90 72.09 L201.90 72.84 L203.90 73.60 L205.90 74.37 L207.90 75.15 L209.90 75.93 L211.90 76.73 L213.90 77.52 L215.90 78.33 L217.90 79.14 L219.90 79.97 L221.90 80.79 L223.90 81.63 L225.90 82.47 L227.90 83.32 L229.90 84.17 L231.90 85.03 L233.90 85.90 L235.90 86.77 L237.90 87.65 L239.90 88.54 L241.90 89.43 L243.90 90.33 L245.90 91.23 L247.90 92.14 L249.90 93.05 L251.90 93.97 L253.90 94.90 L255.90 95.83 L257.90 96.76 L259.90 97.70 L261.90 98.65 L263.90 99.60 L265.90 100.55 L267.90 101.51 L269.90 102.48 L271.90 103.45 L273.90 104.42 L275.90 105.40 L277.90 106.38 L279.90 107.37 L281.90 108.36 L283.90 109.36 L285.90 110.36 L287.90 111.36 L289.90 112.37 L291.90 113.38 L293.90 114.39 L295.90 115.41 L297.90 116.44 L299.90 117.46 L301.90 118.49 L303.90 119.53 L305.90 120.56 L307.90 121.61 L309.90 122.65 L311.90 123.70 L313.90 124.75 L315.90 125.80 L317.90 126.86 L319.90 127.92 L321.90 128.98 L323.90 130.05 L325.90 131.12 L327.90 132.19 L329.90 133.27 L331.90 134.35 L333.90 135.43 L335.90 136.51 L337.90 137.60 L339.90 138.69 L341.90 139.78 L343.90 140.88 L345.90 141.98 L347.90 143.08 L349.90 144.18 L351.90 145.29 L353.90 146.40 L355.90 147.51 L357.90 148.62 L359.90 149.74 L361.90 150.86 L363.90 151.98 L365.90 153.10 L367.90 154.23 L369.90 155.36 L371.90 156.49 L373.90 157.62 L375.90 158.76 L377.90 159.90 L379.90 161.04 L381.90 162.18 L383.90 163.33 L385.90 164.47 L387.90 165.62 L389.90 166.78 L391.90 167.93 L393.90 169.09 L395.90 170.25 L397.90 171.41 L399.90 172.58 L401.90 173.74 L403.90 174.91 L405.90 176.09 L407.90 177.26 L409.90 178.44 L411.90 179.62 L413.90 180.80 L415.90 181.98 L417.90 183.17 L419.90 184.36 L421.90 185.55 L423.90 186.74 L425.90 187.94 L427.90 189.14 L429.90 190.34 L431.90 191.55 L433.90 192.76 L435.90 193.97 L437.90 195.18 L439.90 196.40 L441.90 197.62 L443.90 198.84 L445.90 200.06 L447.90 201.29 L449.90 202.52 L451.90 203.75 L453.90 204.99 L455.90 206.23 L457.90 207.47 L459.90 208.72 L461.90 209.97 L463.90 211.22 L465.90 212.48 L467.90 213.74 L469.90 215.00 L471.90 216.27 L473.90 217.54 L475.90 218.81 L477.90 220.09 L479.90 221.37 L481.90 222.66 L483.90 223.94 L485.90 225.24 L487.90 226.53 L489.90 227.83 L491.90 229.14 L493.90 230.45 L495.90 231.76 L497.90 233.08 L499.90 234.40 L501.90 235.73 L503.90 237.06 L505.90 238.39 L507.90 239.73 L509.90 241.08 L511.90 242.43 L513.90 243.78 L515.90 245.14 L517.90 246.51 L519.90 247.88 L521.90 249.25 L523.90 250.63 L525.90 252.02 L527.90 253.41 L529.90 254.81 L531.90 256.21 L533.90 257.62 L535.90 259.04 L537.90 260.46 L539.90 261.88 L541.90 263.32 L543.90 264.75 L545.90 266.20 L547.90 267.65 L549.90 269.11 L551.90 270.58 L553.90 272.05 L555.90 273.53 L557.90 275.01 L559.90 276.51 L561.90 278.01 L563.90 279.52 L565.90 281.03 L567.90 282.56 L569.90 284.09 L571.90 285.62 L573.90 287.17 L575.90 288.73 L577.20 289.74" fill="none" stroke="#1a1aff" stroke-width="1.0" clip-path="url(#cp)"/>
<path d="M87.90 46.22 L89.90 46.31 L91.90 46.42 L93.90 46.56 L95.90 46.73 L97.90 46.91 L99.90 47.13 L101.90 47.36 L103.90 47.62 L105.90 47.91 L107.90 48.22 L109.90 48.56 L111.90 48.91 L113.90 49.30 L115.90 49.71 L117.90 50.14 L119.90 50.60 L121.90 51.08 L123.90 51.59 L125.90 52.12 L127.90 52.67 L129.90 53.25 L131.90 53.85 L133.90 54.47 L135.90 55.12 L137.90 55.79 L139.90 56.48 L141.90 57.20 L143.90 57.94 L145.90 58.69 L147.90 59.47 L149.90 60.27 L151.90 61.10 L153.90 61.94 L155.90 62.80 L157.90 63.68 L159.90 64.58 L161.90 65.50 L163.90 66.43 L165.90 67.39 L167.90 68.36 L169.90 69.34 L171.90 70.35 L173.90 71.37 L175.90 72.40 L177.90 73.45 L179.90 74.51 L181.90 75.59 L183.90 76.68 L185.90 77.79 L187.90 78.91 L189.90 80.04 L191.90 81.18 L193.90 82.33 L195.90 83.50 L197.90 84.67 L199.90 85.86 L201.90 87.06 L203.90 88.27 L205.90 89.48 L207.90 90.71 L209.90 91.94 L211.90 93.19 L213.90 94.44 L215.90 95.70 L217.90 96.96 L219.90 98.24 L221.90 99.52 L223.90 100.80 L225.90 102.09 L227.90 103.39 L229.90 104.70 L231.90 106.01 L233.90 107.32 L235.90 108.64 L237.90 109.96 L239.90 111.29 L241.90 112.62 L243.90 113.95 L245.90 115.29 L247.90 116.63 L249.90 117.97 L251.90 119.32 L253.90 120.67 L255.90 122.02 L257.90 123.37 L259.90 124.73 L261.90 126.08 L263.90 127.44 L265.90 128.80 L267.90 130.16 L269.90 131.52 L271.90 132.88 L273.90 134.25 L275.90 135.61 L277.90 136.97 L279.90 138.34 L281.90 139.70 L283.90 141.06 L285.90 142.43 L287.90 143.79 L289.90 145.15 L291.90 146.52 L293.90 147.88 L295.90 149.24 L297.90 150.60 L299.90 151.97 L301.90 153.33 L303.90 154.69 L305.90 156.05 L307.90 157.40 L309.90 158.76 L311.90 160.12 L313.90 161.48 L315.90 162.83 L317.90 164.19 L319.90 165.54 L321.90 166.90 L323.90 168.25 L325.90 169.60 L327.90 170.95 L329.90 172.30 L331.90 173.65 L333.90 175.00 L335.90 176.35 L337.90 177.70 L339.90 179.05 L341.90 180.39 L343.90 181.74 L345.90 183.08 L347.90 184.43 L349.90 185.77 L351.90 187.11 L353.90 188.45 L355.90 189.79 L357.90 191.13 L359.90 192.47 L361.90 193.81 L363.90 195.15 L365.90 196.48 L367.90 197.82 L369.90 199.16 L371.90 200.49 L373.90 201.83 L375.90 203.16 L377.90 204.49 L379.90 205.82 L381.90 207.15 L383.90 208.49 L385.90 209.82 L387.90 211.15 L389.90 212.47 L391.90 213.80 L393.90 215.13 L395.90 216.46 L397.90 217.78 L399.90 219.11 L401.90 220.44 L403.90 221.76 L405.90 223.09 L407.90 224.41 L409.90 225.74 L411.90 227.06 L413.90 228.39 L415.90 229.71 L417.90 231.03 L419.90 232.36 L421.90 233.68 L423.90 235.00 L425.90 236.32 L427.90 237.65 L429.90 238.97 L431.90 240.29 L433.90 241.62 L435.90 242.94 L437.90 244.26 L439.90 245.58 L441.90 246.91 L443.90 248.23 L445.90 249.55 L447.90 250.88 L449.90 252.20 L451.90 253.53 L453.90 254.85 L455.90 256.18 L457.90 257.51 L459.90 258.83 L461.90 260.16 L463.90 261.49 L465.90 262.82 L467.90 264.15 L469.90 265.48 L471.90 266.81 L473.90 268.14 L475.90 269.47 L477.90 270.81 L479.90 272.14 L481.90 273.48 L483.90 274.82 L485.90 276.16 L487.90 277.50 L489.90 278.84 L491.90 280.18 L493.90 281.53 L495.90 282.87 L497.90 284.22 L499.90 285.57 L501.90 286.92 L503.90 288.27 L505.90 289.63 L507.90 290.99 L509.90 292.34 L511.90 293.71 L513.90 295.07 L515.90 296.43 L517.90 297.80 L519.90 299.17 L521.90 300.54 L523.90 301.92 L525.90 303.30 L527.90 304.68 L529.90 306.06 L531.90 307.44 L533.90 308.83 L535.90 310.22 L537.90 311.62 L539.90 313.02 L541.90 314.42 L543.90 315.82 L545.90 317.23 L547.90 318.64 L549.90 320.05 L551.90 321.47 L553.90 322.89 L555.90 324.32 L557.90 325.75 L559.90 327.18 L561.90 328.62 L563.90 330.06 L565.90 331.50 L567.90 332.95 L569.90 334.41 L571.90 335.87 L573.90 337.33 L575.90 338.80 L577.20 339.75" fill="none" stroke="#ff08ff" stroke-width="1.0" clip-path="url(#cp)"/>
</svg>
</body></html>
